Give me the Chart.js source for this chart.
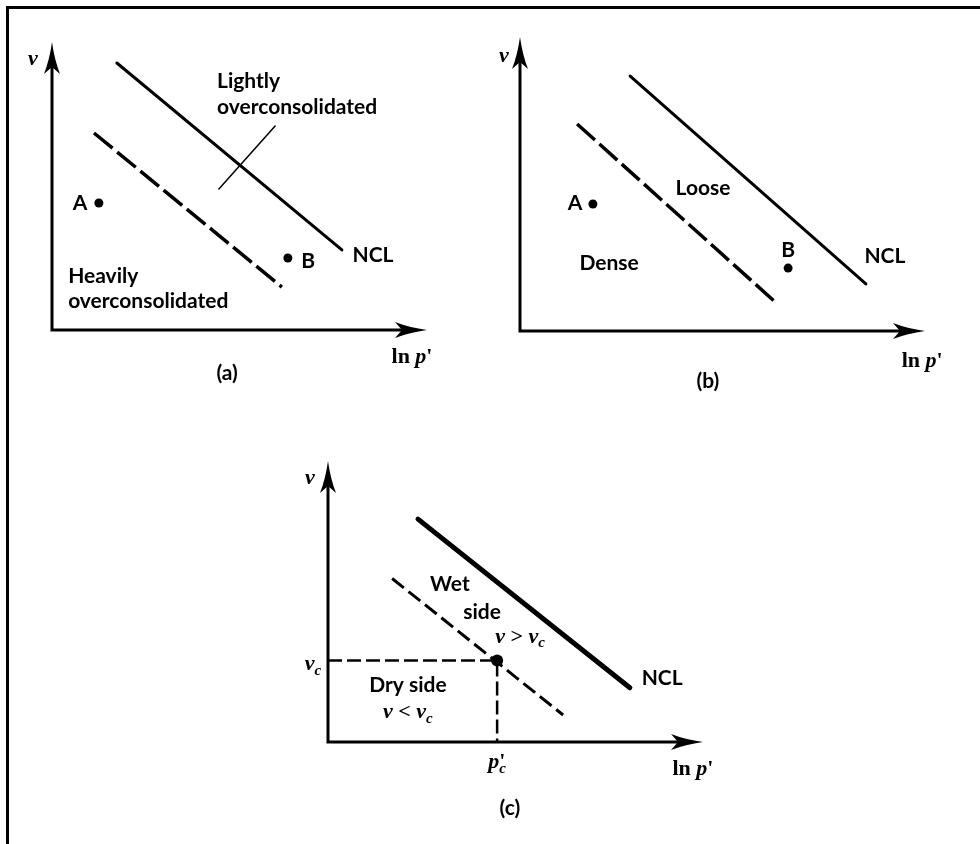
<!DOCTYPE html>
<html>
<head>
<meta charset="utf-8">
<script src="https://cdn.jsdelivr.net/npm/chart.js@4.4.1/dist/chart.umd.min.js"></script>
<style>
  html, body { margin: 0; padding: 0; background: #fff; }
  #page { position: relative; width: 980px; height: 844px; overflow: hidden; }
  #frame { position: absolute; left: 6px; top: 6px; width: 990px; height: 860px;
           border-left: 3px solid #000; border-top: 3px solid #000; }
  canvas { position: absolute; left: 0; top: 0; }
</style>
</head>
<body>
<div id="page">
  <div id="frame"></div>
  <canvas id="chartA" width="980" height="844"></canvas>
  <canvas id="chartB" width="980" height="844"></canvas>
  <canvas id="chartC" width="980" height="844"></canvas>
</div>
<script>
// all values in axis units: ln p' on x (0..10), v on y (0..10)

// (a) lightly / heavily overconsolidated
const nclA = [[1.73, 9.27], [7.73, 2.78]];
const dashedA = [[1.12, 6.84], [6.13, 1.49]];
const pointsA = [[1.25, 4.41], [6.29, 2.50]];
const pointerA = [[5.95, 7.08], [4.45, 4.90]];

// (b) loose / dense
const nclB = [[2.72, 8.67], [8.54, 1.60]];
const dashedB = [[1.41, 7.04], [6.30, 0.99]];
const pointsB = [[1.80, 4.32], [6.62, 2.14]];

// (c) wet / dry side of critical
const nclC = [[2.40, 7.93], [8.05, 1.93]];
const dashedC = [[1.71, 5.82], [6.27, 0.96]];
const criticalC = [[4.51, 2.90]];
const guideC = [[0, 2.90], [4.51, 2.90], [4.51, 0]];

// text: [text, x, y (baseline), align, kind]
const labelsA = [
  ["Lightly", 4.40, 8.40, "left", "sans"],
  ["overconsolidated", 4.40, 7.50, "left", "sans"],
  ["Heavily", 0.43, 1.63, "left", "sans"],
  ["overconsolidated", 0.43, 0.76, "left", "sans"],
  ["A", 0.75, 4.17, "center", "sans"],
  ["B", 6.83, 2.15, "center", "sans"],
  ["NCL", 8.56, 2.36, "center", "sans"],
  ["v", -0.51, 9.20, "center", "math"],
  ["ln p'", 9.60, -1.15, "center", "math"],
  ["(a)", 4.67, -1.74, "center", "sans"]
];
const labelsB = [
  ["A", 1.36, 4.12, "center", "sans"],
  ["B", 6.62, 2.52, "center", "sans"],
  ["Loose", 4.52, 4.63, "center", "sans"],
  ["Dense", 2.20, 2.07, "center", "sans"],
  ["NCL", 9.01, 2.31, "center", "sans"],
  ["v", -0.40, 9.15, "center", "math"],
  ["ln p'", 9.93, -1.22, "center", "math"],
  ["(b)", 4.64, -1.94, "center", "sans"]
];
const labelsC = [
  ["Wet", 3.25, 5.36, "center", "sans"],
  ["side", 4.11, 4.36, "center", "sans"],
  ["v > v_c", 5.12, 3.54, "center", "math"],
  ["Dry side", 2.13, 1.79, "center", "sans"],
  ["v < v_c", 2.13, 0.86, "center", "math"],
  ["NCL", 8.91, 2.04, "center", "sans"],
  ["v_c", -0.40, 2.57, "center", "math"],
  ["p'_c", 4.51, -0.93, "center", "math"],
  ["ln p'", 9.73, -1.18, "center", "math"],
  ["(c)", 4.85, -2.61, "center", "sans"],
  ["v", -0.48, 9.18, "center", "math"]
];

const SANS_FONT = "bold 21px Lato, 'Open Sans', sans-serif";
const SERIF = "'Liberation Serif', 'DejaVu Serif', serif";
const MATH_SIZE = 22;

const pts = (arr) => arr.map(([x, y]) => ({ x, y }));

// lays out simple math text: italic v/p, prime, _subscript
function mathLayout(ctx, text, size) {
  const upright = `bold ${size}px ${SERIF}`;
  const italic = `italic bold ${size}px ${SERIF}`;
  const sub = `italic bold ${Math.round(size * 0.68)}px ${SERIF}`;
  const runs = [];
  let x = 0;
  let primeX = null;
  for (let i = 0; i < text.length; i++) {
    const ch = text[i];
    if (ch === "_") {
      const c = text[++i];
      const sx = primeX !== null ? primeX : x;
      ctx.font = sub;
      runs.push({ t: c, font: sub, x: sx, dy: size * 0.22 });
      x = Math.max(x, sx + ctx.measureText(c).width);
      primeX = null;
      continue;
    }
    const font = (ch === "v" || ch === "p") ? italic : upright;
    ctx.font = font;
    primeX = ch === "'" ? x : null;
    runs.push({ t: ch, font, x, dy: 0 });
    x += ctx.measureText(ch).width;
  }
  return { runs, width: x };
}

function drawArrow(ctx, tx, ty, dx, dy) {
  const L = 32, W = 8, N = 7;
  const nx = -dy, ny = dx;
  const bx = tx - L * dx, by = ty - L * dy;
  ctx.beginPath();
  ctx.moveTo(tx, ty);
  ctx.quadraticCurveTo(tx - 0.55 * L * dx + 0.3 * W * nx, ty - 0.55 * L * dy + 0.3 * W * ny, bx + W * nx, by + W * ny);
  ctx.lineTo(tx - (L - N) * dx, ty - (L - N) * dy);
  ctx.lineTo(bx - W * nx, by - W * ny);
  ctx.quadraticCurveTo(tx - 0.55 * L * dx - 0.3 * W * nx, ty - 0.55 * L * dy - 0.3 * W * ny, tx, ty);
  ctx.closePath();
  ctx.fill();
}

// draws the arrowed axes and the text of each panel
const diagramPlugin = {
  id: "diagram",
  afterDatasetsDraw(chart, args, opts) {
    const { ctx } = chart;
    const xs = chart.scales.x, ys = chart.scales.y;
    const ox = xs.getPixelForValue(0), oy = ys.getPixelForValue(0);
    const tx = xs.getPixelForValue(xs.max), ty = ys.getPixelForValue(ys.max);
    ctx.save();
    ctx.strokeStyle = "#000";
    ctx.fillStyle = "#000";
    ctx.lineWidth = 3;
    ctx.lineCap = "square";
    ctx.beginPath();
    ctx.moveTo(ox, oy);
    ctx.lineTo(tx - 12, oy);
    ctx.moveTo(ox, oy);
    ctx.lineTo(ox, ty + 12);
    ctx.stroke();
    drawArrow(ctx, tx, oy, 1, 0);
    drawArrow(ctx, ox, ty, 0, -1);

    ctx.textBaseline = "alphabetic";
    (opts.labels || []).forEach(([text, x, y, align, kind]) => {
      const px = xs.getPixelForValue(x), py = ys.getPixelForValue(y);
      if (kind === "math") {
        const lay = mathLayout(ctx, text, MATH_SIZE);
        const x0 = align === "center" ? px - lay.width / 2 : px;
        ctx.textAlign = "left";
        lay.runs.forEach((r) => {
          ctx.font = r.font;
          ctx.fillText(r.t, x0 + r.x, py + r.dy);
        });
      } else {
        ctx.font = SANS_FONT;
        ctx.textAlign = align;
        ctx.fillText(text, px, py);
      }
    });
    ctx.restore();
  }
};

const solid = (data, width) => ({
  data: pts(data), showLine: true, borderColor: "#000", borderWidth: width,
  borderCapStyle: "round", pointRadius: 0, clip: false
});
const dashed = (data, width, dash) => ({
  data: pts(data), showLine: true, borderColor: "#000", borderWidth: width,
  borderDash: dash, borderCapStyle: "butt", pointRadius: 0, clip: false
});
const dots = (data, r) => ({
  data: pts(data), showLine: false, pointRadius: r, pointBackgroundColor: "#000",
  pointBorderWidth: 0, clip: false
});

function makeChart(id, pad, datasets, labels) {
  return new Chart(document.getElementById(id), {
    type: "scatter",
    data: { datasets },
    options: {
      responsive: false,
      animation: false,
      devicePixelRatio: 1,
      events: [],
      layout: { padding: pad },
      scales: {
        x: { type: "linear", min: 0, max: 10, display: false },
        y: { type: "linear", min: 0, max: 10, display: false }
      },
      plugins: {
        legend: { display: false },
        tooltip: { enabled: false },
        diagram: { labels }
      }
    },
    plugins: [diagramPlugin]
  });
}

makeChart("chartA", { left: 52, top: 42, right: 553, bottom: 514 }, [
  solid(nclA, 3),
  dashed(dashedA, 3.5, [24, 6]),
  solid(pointerA, 1.5),
  dots(pointsA, 4.5)
], labelsA);

makeChart("chartB", { left: 520, top: 37, right: 55, bottom: 513 }, [
  solid(nclB, 3),
  dashed(dashedB, 3.5, [24, 6]),
  dots(pointsB, 4.5)
], labelsB);

makeChart("chartC", { left: 328, top: 461, right: 277, bottom: 102 }, [
  solid(nclC, 5),
  dashed(dashedC, 3, [15, 6]),
  dashed(guideC, 2.5, [14, 5]),
  dots(criticalC, 6)
], labelsC);
</script>
</body>
</html>
